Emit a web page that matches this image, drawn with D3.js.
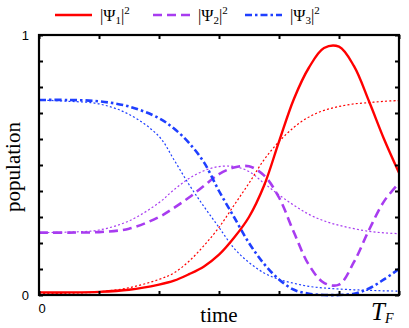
<!DOCTYPE html>
<html><head><meta charset="utf-8">
<script src="https://cdn.jsdelivr.net/npm/d3@7"></script>
<style>body{margin:0;background:#fff}svg{display:block}</style>
</head><body>
<svg id="c" width="409" height="328"></svg>
<script>
// time in units of T_F/6 (one tick interval)
const time = [0,0.5,1,1.5,2,2.25,2.5,2.75,3,3.25,3.5,3.75,4,4.25,4.5,4.75,5,5.25,5.5,5.75,6];
// populations |Psi_i|^2 (thick) and adiabatic references (thin dotted)
const psi1 = [0.01,0.01,0.012,0.02,0.04,0.055,0.08,0.11,0.155,0.22,0.3,0.42,0.59,0.755,0.875,0.95,0.955,0.88,0.745,0.6,0.47];
const psi2 = [0.24,0.24,0.242,0.255,0.3,0.335,0.375,0.42,0.465,0.49,0.495,0.46,0.375,0.24,0.115,0.047,0.04,0.127,0.25,0.36,0.43];
const psi3 = [0.75,0.75,0.745,0.725,0.68,0.64,0.585,0.51,0.4,0.3,0.2,0.12,0.06,0.02,0.005,0.0,0.0,0.005,0.025,0.06,0.1];
const ref1 = [0.005,0.007,0.012,0.028,0.06,0.085,0.13,0.19,0.26,0.345,0.43,0.52,0.59,0.645,0.685,0.71,0.725,0.735,0.74,0.745,0.748];
const ref2 = [0.24,0.242,0.25,0.285,0.355,0.405,0.448,0.478,0.494,0.494,0.475,0.43,0.385,0.345,0.31,0.285,0.268,0.255,0.245,0.239,0.236];
const ref3 = [0.75,0.745,0.735,0.695,0.61,0.52,0.425,0.34,0.26,0.18,0.125,0.085,0.06,0.045,0.033,0.027,0.023,0.02,0.018,0.016,0.015];
const xTicks = [0,1,2,3,4,5,6];
const yTicks = [0,0.1,0.2,0.3,0.4,0.5,0.6,0.7,0.8,0.9,1];
const legendLabels = ["1","2","3"];

const RED="#ff0000", PUR="#a83cf0", BLU="#1f3fff";
const svg = d3.select("#c");
const L=39,R=399,T=35,B=295;
const x = d3.scaleLinear().domain([0,6]).range([L,R]);
const y = d3.scaleLinear().domain([0,1]).range([B,T]);
svg.append("clipPath").attr("id","cp").append("rect").attr("x",L).attr("y",T-2).attr("width",R-L).attr("height",B-T+4);
const line = d3.line().x((d,i)=>x(time[i])).y(d=>y(d)).curve(d3.curveCatmullRom.alpha(0.5));
const g = svg.append("g").attr("clip-path","url(#cp)");
function draw(data,color,w,dash){
  g.append("path").attr("d",line(data)).attr("fill","none").attr("stroke",color)
   .attr("stroke-width",w).attr("stroke-dasharray",dash||null);
}
draw(ref2,PUR,1.2,"2,2.2");
draw(ref3,BLU,1.2,"2,2.2");
draw(ref1,RED,1.2,"2,2.2");
draw(psi2,PUR,2.6,"9,5");
draw(psi3,BLU,2.6,"7,3,2.5,3");
draw(psi1,RED,2.4,null);

// axes with inward ticks on all sides
const tl=-4;
svg.append("g").attr("transform",`translate(0,${B})`).call(d3.axisBottom(x).tickValues(xTicks).tickSize(tl).tickFormat(""));
svg.append("g").attr("transform",`translate(0,${T})`).call(d3.axisTop(x).tickValues(xTicks).tickSize(tl).tickFormat(""));
svg.append("g").attr("transform",`translate(${L},0)`).call(d3.axisLeft(y).tickValues(yTicks).tickSize(tl).tickFormat(""));
svg.append("g").attr("transform",`translate(${R},0)`).call(d3.axisRight(y).tickValues(yTicks).tickSize(tl).tickFormat(""));
svg.selectAll(".domain").remove();
svg.selectAll(".tick line").attr("stroke","#000").attr("stroke-width",2);
svg.append("rect").attr("x",L).attr("y",T).attr("width",R-L).attr("height",B-T)
  .attr("fill","none").attr("stroke","#000").attr("stroke-width",2.2);

const sans="Liberation Sans, Arial, sans-serif", serif="Liberation Serif, Times New Roman, serif";
svg.append("text").attr("x",x(0)-10).attr("y",y(1)+5).attr("text-anchor","end").attr("font-family",sans).attr("font-size",13).text("1");
svg.append("text").attr("x",x(0)-10).attr("y",y(0)+5).attr("text-anchor","end").attr("font-family",sans).attr("font-size",13).text("0");
svg.append("text").attr("x",x(0)+3).attr("y",B+18).attr("text-anchor","middle").attr("font-family",sans).attr("font-size",13).text("0");
svg.append("text").attr("x",x(3)).attr("y",B+27).attr("text-anchor","middle").attr("font-family",serif).attr("font-size",21).text("time");
svg.append("text").attr("transform",`translate(20,${(T+B)/2+2}) rotate(-90)`).attr("text-anchor","middle").attr("font-family",serif).attr("font-size",21).text("population");
const tf = svg.append("text").attr("x",371).attr("y",B+25).attr("font-family",serif).attr("font-style","italic").attr("font-size",25).text("T");
tf.append("tspan").attr("font-size",14).attr("dy",3).text("F");

// legend
const lx=[55,153,245], cols=[RED,PUR,BLU], dashes=[null,"9,5","7,3,2.5,3"];
legendLabels.forEach((lab,i)=>{
  svg.append("line").attr("x1",lx[i]).attr("x2",lx[i]+37).attr("y1",15).attr("y2",15)
    .attr("stroke",cols[i]).attr("stroke-width",2.6).attr("stroke-dasharray",dashes[i]);
  const t = svg.append("text").attr("x",lx[i]+45).attr("y",21).attr("font-family",serif).attr("font-size",16.5);
  t.append("tspan").text("|Ψ");
  t.append("tspan").attr("font-size",11).attr("dy",3).text(lab);
  t.append("tspan").attr("dy",-3).text("|");
  t.append("tspan").attr("font-size",11).attr("dy",-7).text("2");
});
</script>
</body></html>
